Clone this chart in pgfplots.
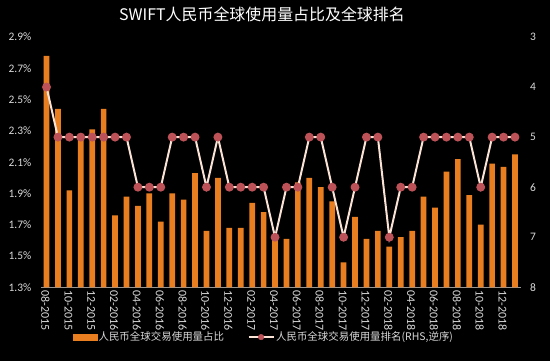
\documentclass[border=0pt]{standalone}
\usepackage{pgfplots}
\usepackage{pgfplotstable}
\pgfplotsset{compat=1.18}
\usepackage{fontspec}
\setmainfont{Carlito}
\newfontfamily\cjk{Noto Sans CJK SC}
\definecolor{barorange}{RGB}{233,126,33}
\definecolor{linecol}{RGB}{250,226,212}
\definecolor{markcol}{RGB}{188,82,88}
\definecolor{textgray}{RGB}{217,217,217}
\definecolor{axisgray}{RGB}{150,150,150}
\pgfplotstableread{
x share rank
0 2.78 4
1 2.44 5
2 1.92 5
3 2.28 5
4 2.31 5
5 2.44 5
6 1.76 5
7 1.88 5
8 1.82 6
9 1.90 6
10 1.72 6
11 1.90 5
12 1.86 5
13 2.03 5
14 1.66 6
15 2.00 5
16 1.68 6
17 1.68 6
18 1.84 6
19 1.78 6
20 1.61 7
21 1.61 6
22 1.97 6
23 2.00 5
24 1.94 5
25 1.85 6
26 1.46 7
27 1.75 6
28 1.61 5
29 1.66 5
30 1.56 7
31 1.62 6
32 1.66 6
33 1.88 5
34 1.81 5
35 2.04 5
36 2.12 5
37 1.89 5
38 1.70 6
39 2.09 5
40 2.07 5
41 2.15 5
}\datatable
\begin{document}
\begin{tikzpicture}
\useasboundingbox (0,0) rectangle (550bp,361bp);
\fill[black] (0,0) rectangle (550bp,361bp);
\node[text=white, font=\cjk\fontsize{16}{16}\selectfont] at (262bp,347bp) {SWIFT人民币全球使用量占比及全球排名};
\begin{axis}[
  at={(40.8bp,73.7bp)}, anchor=south west,
  scale only axis, width=479.9bp, height=250.3bp,
  xmin=-0.5, xmax=41.5, ymin=1.3, ymax=2.9,
  axis x line*=bottom, axis y line*=left,
  x axis line style={draw=axisgray, line width=0.8bp, -},
  y axis line style={draw=none},
  ytick={1.3,1.5,1.7,1.9,2.1,2.3,2.5,2.7,2.9},
  yticklabel={\pgfmathprintnumber[fixed,fixed zerofill,precision=1]{\tick}\%},
  /pgf/number format/assume math mode=true,
  yticklabel style={font=\fontsize{11.5}{11.5}\selectfont, text=textgray, xshift=-6bp},
  ytick style={draw=none},
  xtick={0,2,...,40},
  xticklabels={08-2015,10-2015,12-2015,02-2016,04-2016,06-2016,08-2016,10-2016,12-2016,02-2017,04-2017,06-2017,08-2017,10-2017,12-2017,02-2018,04-2018,06-2018,08-2018,10-2018,12-2018},
  xticklabel style={rotate=-90, anchor=west, font=\fontsize{12}{12}\selectfont, text=textgray, yshift=-1bp},
  xtick style={draw=none},
  extra x ticks={-0.5,1.5,...,41.5},
  extra x tick labels={},
  extra x tick style={tick align=outside, major tick length=3.5bp, tick style={draw=axisgray, line width=0.8bp}},
  legend columns=2,
  legend style={at={(0.066,-0.199)}, anchor=west, draw=none, fill=none, text=textgray,
    font=\cjk\fontsize{10.5}{12}\selectfont, inner sep=0pt,
    nodes={inner sep=1.5bp},
    /tikz/every even column/.append style={column sep=22bp}},
]
\addplot[ybar, bar width=5.7bp, fill=barorange, draw=none, forget plot] table[x=x, y=share] {\datatable};
\addlegendimage{legend image code/.code={\fill[barorange] (0bp,-3bp) rectangle (24bp,3bp);}}
\addlegendentry{人民币全球交易使用量占比}
\addlegendimage{legend image code/.code={\draw[linecol, line width=2bp] (0bp,0bp) -- (25bp,0bp); \fill[markcol] (12.5bp,0bp) circle (2.8bp);}}
\addlegendentry{人民币全球交易使用量排名(RHS,逆序)}
\end{axis}
\begin{axis}[
  at={(40.8bp,73.7bp)}, anchor=south west,
  scale only axis, width=479.9bp, height=250.3bp,
  xmin=-0.5, xmax=41.5, ymin=3, ymax=8, y dir=reverse,
  axis x line=none, axis y line*=right,
  y axis line style={draw=none},
  ytick={3,4,5,6,7,8},
  /pgf/number format/assume math mode=true,
  yticklabel style={font=\fontsize{11.5}{11.5}\selectfont, text=textgray, xshift=6bp},
  ytick style={draw=none},
]
\addplot[linecol, line width=2bp, mark=*, mark size=3.4bp, mark options={fill=markcol, draw=markcol}] table[x=x, y=rank] {\datatable};
\end{axis}
\end{tikzpicture}
\end{document}
